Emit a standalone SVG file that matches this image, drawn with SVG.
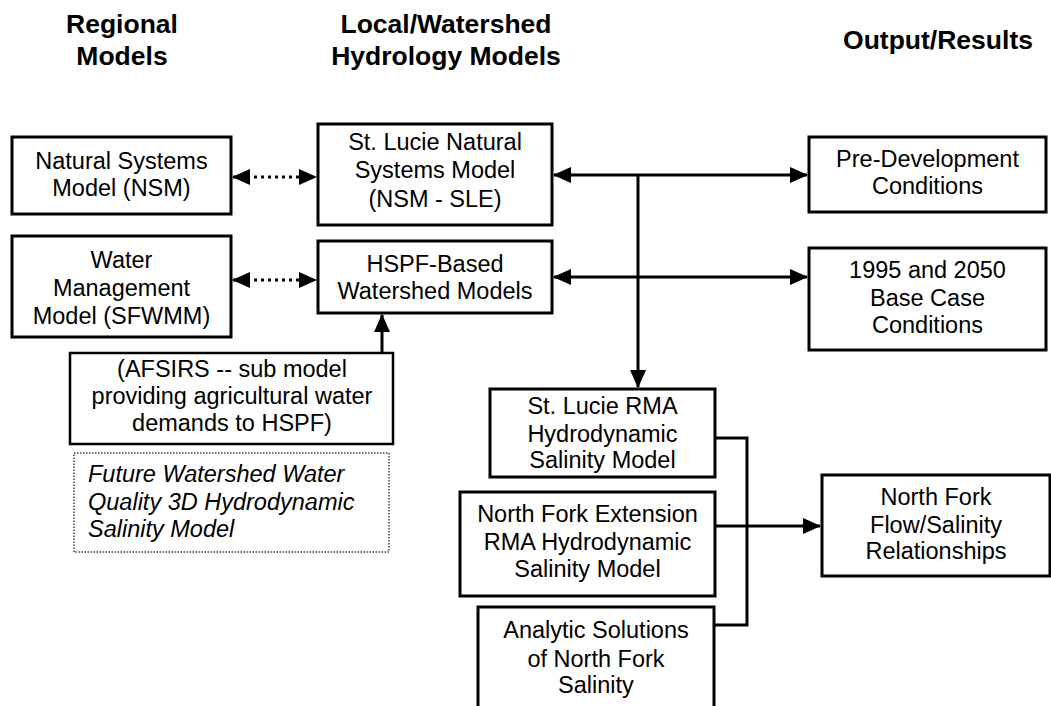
<svg xmlns="http://www.w3.org/2000/svg" width="1051" height="706" viewBox="0 0 1051 706">
<style>
.box{fill:#fff;stroke:#000;stroke-width:3}
.dbox{fill:#fff;stroke:#444;stroke-width:1.5;stroke-dasharray:1.5 1.5}
.t{font-family:"Liberation Sans",Arial,sans-serif;font-size:23.5px;fill:#000;text-anchor:middle}
.it{font-family:"Liberation Sans",Arial,sans-serif;font-size:23.5px;font-style:italic;fill:#000}
.h{font-family:"Liberation Sans",Arial,sans-serif;font-size:26.5px;font-weight:bold;fill:#000;text-anchor:middle}
.c{fill:none;stroke:#000;stroke-width:3}
.dot{fill:none;stroke:#000;stroke-width:3;stroke-dasharray:3 4}
</style>
<defs>
<marker id="ah" viewBox="0 0 18 16" refX="17" refY="8" markerWidth="18" markerHeight="16" markerUnits="userSpaceOnUse" orient="auto-start-reverse">
<path d="M0,0 L18,8 L0,16 z" fill="#000"/>
</marker>
</defs>
<rect width="1051" height="706" fill="#fff"/>
<g id="headers">
<text class="h" x="122" y="33">Regional</text>
<text class="h" x="122" y="65">Models</text>
<text class="h" x="446" y="33">Local/Watershed</text>
<text class="h" x="446" y="65">Hydrology Models</text>
<text class="h" x="938" y="49">Output/Results</text>
</g>
<g id="connectors">
<line class="dot" x1="233" y1="177" x2="316" y2="177" marker-start="url(#ah)" marker-end="url(#ah)"/>
<line class="dot" x1="233" y1="280" x2="316" y2="280" marker-start="url(#ah)" marker-end="url(#ah)"/>
<line class="c" x1="554" y1="175" x2="807" y2="175" marker-start="url(#ah)" marker-end="url(#ah)"/>
<line class="c" x1="554" y1="277" x2="807" y2="277" marker-start="url(#ah)" marker-end="url(#ah)"/>
<line class="c" x1="638" y1="175" x2="638" y2="387" marker-end="url(#ah)"/>
<line class="c" x1="382" y1="353" x2="382" y2="315" marker-end="url(#ah)"/>
<polyline class="c" points="715,438 747,438 747,625 714,625"/>
<line class="c" x1="715" y1="526" x2="820" y2="526" marker-end="url(#ah)"/>
</g>
<g id="nsm">
<rect class="box" x="12" y="137" width="219" height="77"/>
<text class="t" x="121.5" y="169">Natural Systems</text>
<text class="t" x="121.5" y="196">Model (NSM)</text>
</g>
<g id="sfwmm">
<rect class="box" x="12" y="236" width="219" height="101"/>
<text class="t" x="121.5" y="268">Water</text>
<text class="t" x="121.5" y="296">Management</text>
<text class="t" x="121.5" y="324">Model (SFWMM)</text>
</g>
<g id="nsm-sle">
<rect class="box" x="318" y="124" width="234" height="101"/>
<text class="t" x="435" y="150">St. Lucie Natural</text>
<text class="t" x="435" y="178">Systems Model</text>
<text class="t" x="435" y="207">(NSM - SLE)</text>
</g>
<g id="hspf">
<rect class="box" x="318" y="241" width="234" height="72"/>
<text class="t" x="435" y="272">HSPF-Based</text>
<text class="t" x="435" y="299">Watershed Models</text>
</g>
<g id="predev">
<rect class="box" x="809" y="137" width="237" height="75"/>
<text class="t" x="927.5" y="167">Pre-Development</text>
<text class="t" x="927.5" y="194">Conditions</text>
</g>
<g id="basecase">
<rect class="box" x="809" y="248" width="237" height="102"/>
<text class="t" x="927.5" y="278">1995 and 2050</text>
<text class="t" x="927.5" y="306">Base Case</text>
<text class="t" x="927.5" y="333">Conditions</text>
</g>
<g id="afsirs">
<rect class="box" x="70" y="353" width="323" height="91" style="stroke-width:2.5"/>
<text class="t" x="232" y="377">(AFSIRS -- sub model</text>
<text class="t" x="232" y="404">providing agricultural water</text>
<text class="t" x="232" y="431">demands to HSPF)</text>
</g>
<g id="future">
<rect class="dbox" x="74" y="453" width="315" height="99"/>
<text class="it" x="88" y="482">Future Watershed Water</text>
<text class="it" x="88" y="510">Quality 3D Hydrodynamic</text>
<text class="it" x="88" y="537">Salinity Model</text>
</g>
<g id="rma">
<rect class="box" x="490" y="389" width="225" height="88"/>
<text class="t" x="602.5" y="414">St. Lucie RMA</text>
<text class="t" x="602.5" y="442">Hydrodynamic</text>
<text class="t" x="602.5" y="468">Salinity Model</text>
</g>
<g id="nfe">
<rect class="box" x="460" y="492" width="255" height="104"/>
<text class="t" x="587.5" y="522">North Fork Extension</text>
<text class="t" x="587.5" y="550">RMA Hydrodynamic</text>
<text class="t" x="587.5" y="577">Salinity Model</text>
</g>
<g id="analytic">
<rect class="box" x="478" y="607" width="236" height="115"/>
<text class="t" x="596" y="638">Analytic Solutions</text>
<text class="t" x="596" y="667">of North Fork</text>
<text class="t" x="596" y="693">Salinity</text>
</g>
<g id="northfork">
<rect class="box" x="822" y="475" width="228" height="101"/>
<text class="t" x="936" y="505">North Fork</text>
<text class="t" x="936" y="533">Flow/Salinity</text>
<text class="t" x="936" y="559">Relationships</text>
</g>
</svg>
